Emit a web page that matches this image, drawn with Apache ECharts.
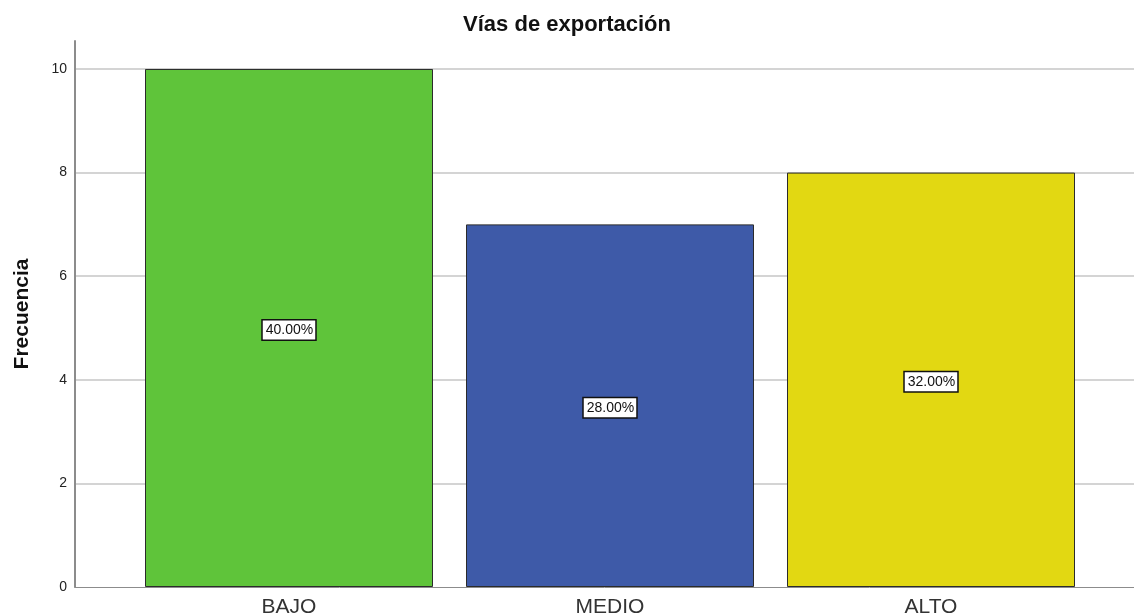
<!DOCTYPE html>
<html>
<head>
<meta charset="utf-8">
<title>Vías de exportación</title>
<script src="https://cdn.jsdelivr.net/npm/echarts@6/dist/echarts.min.js"></script>
<style>
  html, body { margin: 0; padding: 0; background: #ffffff; }
  #chart { width: 1134px; height: 616px; }
</style>
</head>
<body>
<div id="chart"></div>
<script>
// Frequency of export channels by level
const categories = ['BAJO', 'MEDIO', 'ALTO'];
const frequencies = [10, 7, 8];
const barColors = ['#5fc43a', '#3e5aa8', '#e2d812'];
const yTicks = [0, 2, 4, 6, 8, 10];

const total = frequencies.reduce((a, b) => a + b, 0);
const yMax = 10.54;
const FONT = 'Liberation Sans, Arial, sans-serif';

const chart = echarts.init(document.getElementById('chart'), null, { renderer: 'canvas' });

chart.setOption({
  backgroundColor: '#ffffff',
  animation: false,
  title: {
    text: 'Vías de exportación',
    left: 'center',
    top: 9,
    textStyle: { fontFamily: FONT, fontSize: 22, fontWeight: 'bold', color: '#111' }
  },
  grid: [
    // bars
    { left: 128.5, right: 42.5, top: 41, bottom: 29, containLabel: false, outerBoundsMode: 'none' },
    // axis frame with gridlines
    { left: 75, right: 0, top: 41, bottom: 29, containLabel: false, outerBoundsMode: 'none' }
  ],
  xAxis: [
    {
      gridIndex: 0,
      type: 'category',
      data: categories,
      axisLine: { show: false },
      axisTick: { show: false },
      axisLabel: {
        margin: 10,
        fontFamily: FONT,
        fontSize: 21,
        color: '#333'
      }
    },
    {
      gridIndex: 1,
      type: 'value',
      min: 0,
      max: 1,
      axisLine: { show: true, onZero: false, lineStyle: { color: '#8c8c8c', width: 1 } },
      axisTick: { show: false },
      axisLabel: { show: false },
      splitLine: { show: false }
    }
  ],
  yAxis: [
    {
      gridIndex: 0,
      type: 'value',
      min: 0,
      max: yMax,
      show: false,
      splitLine: { show: false }
    },
    {
      gridIndex: 1,
      type: 'value',
      min: 0,
      max: yMax,
      interval: 2,
      name: 'Frecuencia',
      nameLocation: 'middle',
      nameGap: 42,
      nameTextStyle: { fontFamily: FONT, fontSize: 21, fontWeight: 'bold', color: '#111' },
      axisLine: { show: true, lineStyle: { color: '#8c8c8c', width: 2 } },
      axisTick: { show: false },
      axisLabel: {
        customValues: yTicks,
        margin: 8,
        fontFamily: FONT,
        fontSize: 14,
        color: '#222'
      },
      splitLine: {
        show: true,
        showMinLine: false,
        showMaxLine: false,
        lineStyle: { color: '#d4d4d4', width: 2 }
      }
    }
  ],
  series: [
    {
      type: 'bar',
      xAxisIndex: 0,
      yAxisIndex: 0,
      barWidth: 288,
      z: 3,
      data: frequencies.map((v, i) => ({
        value: v,
        itemStyle: { color: barColors[i], borderColor: '#2b2b2b', borderWidth: 1 }
      })),
      label: {
        show: true,
        position: 'inside',
        offset: [0, 2],
        formatter: p => (p.value / total * 100).toFixed(2) + '%',
        fontFamily: FONT,
        fontSize: 14,
        color: '#111',
        backgroundColor: '#ffffff',
        borderColor: '#111',
        borderWidth: 1.5,
        padding: [3, 2, 2, 3]
      }
    }
  ]
});
</script>
</body>
</html>
